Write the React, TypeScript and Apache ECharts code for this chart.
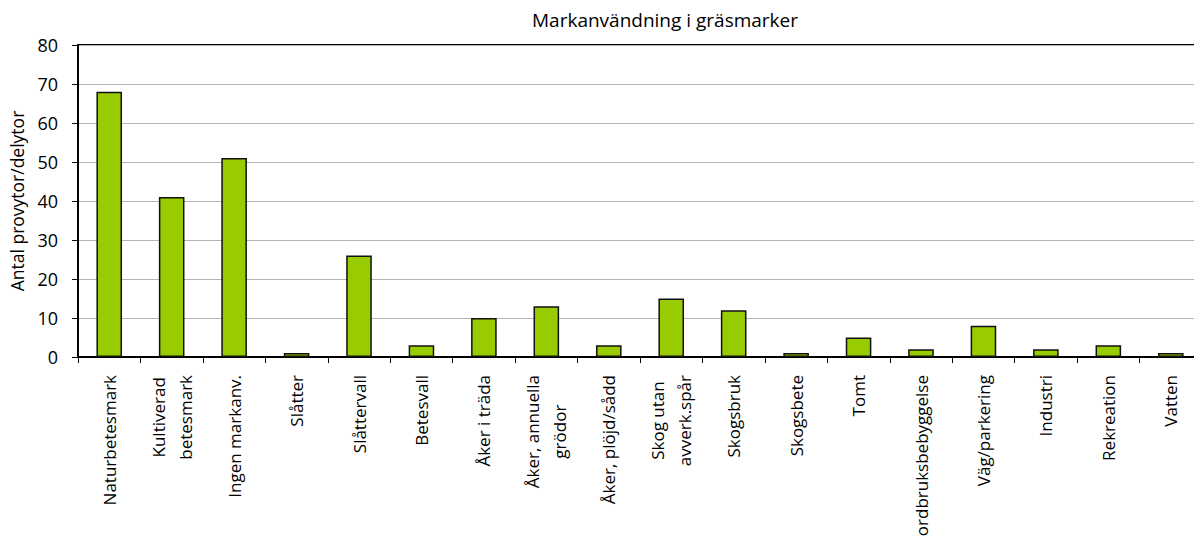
import React, { useEffect, useRef } from "react";
import * as echarts from "echarts";

const title = "Markanvändning i gräsmarker";
const yAxisName = "Antal provytor/delytor";
const categories = [
  "Naturbetesmark",
  "Kultiverad\nbetesmark",
  "Ingen markanv.",
  "Slåtter",
  "Slåttervall",
  "Betesvall",
  "Åker i träda",
  "Åker, annuella\ngrödor",
  "Åker, plöjd/sådd",
  "Skog utan\navverk.spår",
  "Skogsbruk",
  "Skogsbete",
  "Tomt",
  "Jordbruksbebyggelse",
  "Väg/parkering",
  "Industri",
  "Rekreation",
  "Vatten",
];
const values = [68, 41, 51, 1, 26, 3, 10, 13, 3, 15, 12, 1, 5, 2, 8, 2, 3, 1];
const yMin = 0;
const yMax = 80;
const yInterval = 10;

export default function App() {
  const ref = useRef<HTMLDivElement>(null);
  useEffect(() => {
    if (!ref.current) return;
    const chart = echarts.init(ref.current, null, { renderer: "svg" });
    const font = "'Open Sans', 'Noto Sans', sans-serif";
    chart.setOption({
      animation: false,
      backgroundColor: "#ffffff",
      title: {
        text: title,
        left: 660,
        top: 5,
        textAlign: "center",
        textStyle: { fontFamily: font, fontSize: 19, fontWeight: "normal", color: "#000" },
      },
      grid: {
        left: 78,
        right: 8,
        top: 45,
        bottom: 179,
        containLabel: false,
        outerBoundsMode: "none",
        show: true,
        borderColor: "#000",
        borderWidth: 2,
        backgroundColor: "transparent",
      },
      xAxis: {
        type: "category",
        data: categories,
        axisLine: { lineStyle: { color: "#000", width: 2 } },
        axisTick: { show: true, length: 6, lineStyle: { color: "#000", width: 1 }, alignWithLabel: false },
        axisLabel: {
          interval: 0,
          rotate: 90,
          margin: 18,
          color: "#000",
          fontFamily: font,
          fontSize: 17,
          lineHeight: 27,
          formatter: (v: string) => v.split("\n").map((s) => `{c|${s}}`).join("\n"),
          rich: {
            c: { align: "center", fontFamily: font, fontSize: 17, lineHeight: 27, color: "#000" },
          },
        },
      },
      yAxis: {
        type: "value",
        min: yMin,
        max: yMax,
        interval: yInterval,
        name: yAxisName,
        nameLocation: "middle",
        nameGap: 52,
        nameTextStyle: { fontFamily: font, fontSize: 17.5, color: "#000" },
        axisLine: { show: true, lineStyle: { color: "#000", width: 2 } },
        axisTick: { show: true, length: 6, lineStyle: { color: "#000", width: 1 } },
        axisLabel: { margin: 20, color: "#000", fontFamily: font, fontSize: 18 },
        splitLine: { show: true, lineStyle: { color: "#b4b4b4", width: 1 } },
      },
      series: [
        {
          type: "bar",
          data: values,
          barWidth: "41%",
          itemStyle: { color: "#99cc00", borderColor: "#111", borderWidth: 1.5 },
        },
      ],
    });
    return () => chart.dispose();
  }, []);
  return (
    <div style={{ position: "fixed", left: 0, top: 0, width: 1194, height: 536, overflow: "hidden" }}>
      <div ref={ref} style={{ width: 1210, height: 536 }} />
    </div>
  );
}
